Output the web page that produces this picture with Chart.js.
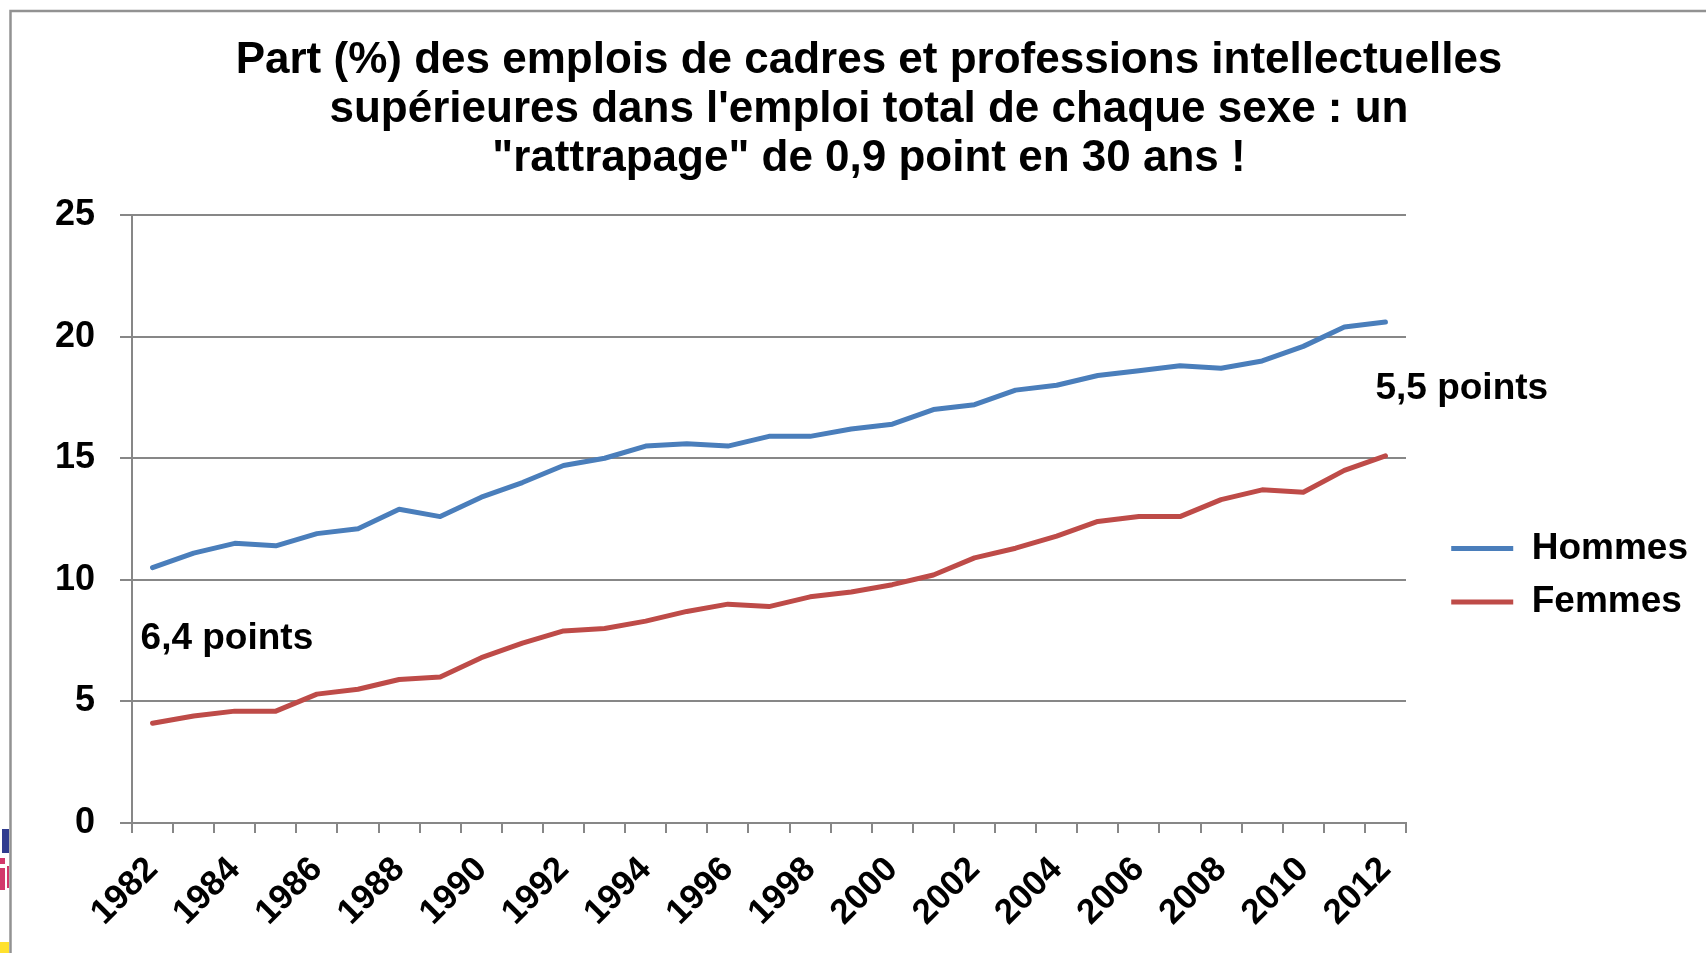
<!DOCTYPE html>
<html lang="fr">
<head>
<meta charset="utf-8">
<title>Part des emplois de cadres par sexe</title>
<script src="https://cdn.jsdelivr.net/npm/chart.js@4.4.1/dist/chart.umd.min.js"></script>
<style>
  html, body { margin: 0; padding: 0; background: #fff; }
  #wrap { position: relative; width: 1706px; height: 953px; }
</style>
</head>
<body>
<div id="wrap"><canvas id="chart"></canvas></div>
<script>
const years = ['1982', '1983', '1984', '1985', '1986', '1987', '1988', '1989', '1990', '1991',
    '1992', '1993', '1994', '1995', '1996', '1997', '1998', '1999', '2000', '2001',
    '2002', '2003', '2004', '2005', '2006', '2007', '2008', '2009', '2010', '2011', '2012'];
const hommes = [10.5, 11.1, 11.5, 11.4, 11.9, 12.1, 12.9, 12.6, 13.4, 14.0,
    14.7, 15.0, 15.5, 15.6, 15.5, 15.9, 15.9, 16.2, 16.4, 17.0,
    17.2, 17.8, 18.0, 18.4, 18.6, 18.8, 18.7, 19.0, 19.6, 20.4, 20.6];
const femmes = [4.1, 4.4, 4.6, 4.6, 5.3, 5.5, 5.9, 6.0, 6.8, 7.4,
    7.9, 8.0, 8.3, 8.7, 9.0, 8.9, 9.3, 9.5, 9.8, 10.2,
    10.9, 11.3, 11.8, 12.4, 12.6, 12.6, 13.3, 13.7, 13.6, 14.5, 15.1];
const yTicks = [0, 5, 10, 15, 20, 25];
const seriesNames = ['Hommes', 'Femmes'];
const gapNotes = ['6,4 points', '5,5 points'];
const titleLines = [
    'Part (%) des emplois de cadres et professions intellectuelles',
    "supérieures dans l'emploi total de chaque sexe : un",
    '"rattrapage" de 0,9 point en 30 ans !'
];

Chart.defaults.font.family = '"Liberation Sans", Arial, sans-serif';
Chart.defaults.color = '#000';

const gridGray = '#878787';
const plotRight = 1406;
const padRight = 8;

// frame of the slide, scraps of the next slide on the left, gap labels
const decorations = {
    id: 'decorations',
    beforeDraw(chart) {
        const ctx = chart.ctx;
        ctx.save();
        ctx.strokeStyle = '#929292';
        ctx.lineWidth = 2.5;
        ctx.beginPath();
        ctx.moveTo(10.5, chart.height);
        ctx.lineTo(10.5, 11);
        ctx.lineTo(chart.width, 11);
        ctx.stroke();
        ctx.fillStyle = '#2f3b8f';
        ctx.fillRect(2, 829, 7, 24);
        ctx.fillStyle = '#d2386b';
        ctx.fillRect(0, 858, 5, 6);
        ctx.fillRect(0, 868, 5, 22);
        ctx.fillRect(7, 866, 2, 22);
        ctx.fillStyle = '#ffe12e';
        ctx.fillRect(0, 942, 9, 11);
        ctx.restore();
    },
    afterDatasetsDraw(chart) {
        const ctx = chart.ctx;
        const x = chart.scales.x;
        const y = chart.scales.y;
        ctx.save();
        ctx.fillStyle = '#000';
        ctx.font = 'bold 37px "Liberation Sans", Arial, sans-serif';
        ctx.textAlign = 'left';
        ctx.textBaseline = 'alphabetic';
        ctx.fillText(gapNotes[0], x.getPixelForValue(0) - 12, y.getPixelForValue(7.15));
        ctx.fillText(gapNotes[1], x.getPixelForValue(years.length - 1) - 10, y.getPixelForValue(17.45));
        ctx.restore();
    }
};

new Chart(document.getElementById('chart'), {
    type: 'line',
    data: {
        labels: years,
        datasets: [
            {
                label: seriesNames[0],
                data: hommes,
                borderColor: '#4a7ebb',
                backgroundColor: '#4a7ebb',
                borderWidth: 5,
                borderCapStyle: 'round',
                borderJoinStyle: 'round',
                pointRadius: 0,
                tension: 0
            },
            {
                label: seriesNames[1],
                data: femmes,
                borderColor: '#be4b48',
                backgroundColor: '#be4b48',
                borderWidth: 5,
                borderCapStyle: 'round',
                borderJoinStyle: 'round',
                pointRadius: 0,
                tension: 0
            }
        ]
    },
    options: {
        responsive: true,
        maintainAspectRatio: false,
        animation: false,
        layout: { padding: { top: 0, left: 40, right: padRight, bottom: 0 } },
        plugins: {
            title: {
                display: true,
                text: titleLines,
                color: '#000',
                font: { size: 44, weight: 'bold', lineHeight: 1.114 },
                padding: { top: 36.5, bottom: 31.5 }
            },
            legend: {
                position: 'right',
                align: 'start',
                // empty title only pushes the two entries down beside the plot
                title: { display: true, text: '', padding: { top: 499, bottom: 0 } },
                labels: {
                    usePointStyle: true,
                    pointStyle: 'line',
                    pointStyleWidth: 62,
                    padding: 16.5,
                    color: '#000',
                    font: { size: 37, weight: 'bold' }
                }
            },
            tooltip: { enabled: false }
        },
        scales: {
            x: {
                offset: true,
                grid: { drawOnChartArea: false, offset: true, tickLength: 10, color: gridGray, lineWidth: 2 },
                border: { color: gridGray, width: 2 },
                ticks: {
                    autoSkip: false,
                    minRotation: 45,
                    maxRotation: 45,
                    padding: 16,
                    color: '#000',
                    font: { size: 35, weight: 'bold' },
                    callback: (value, index) => index % 2 === 0 ? years[index] : ''
                },
                afterFit: scale => { scale.height = 130; }
            },
            y: {
                min: 0,
                max: 25,
                afterBuildTicks: scale => { scale.ticks = yTicks.map(v => ({ value: v })); },
                grid: { color: gridGray, lineWidth: 2, tickLength: 12 },
                border: { color: gridGray, width: 2 },
                ticks: { padding: 25, color: '#000', font: { size: 36, weight: 'bold' } },
                afterFit: scale => { scale.width = 92; }
            },
            gap: {
                type: 'linear',
                axis: 'y',
                position: 'right',
                grid: { display: false },
                border: { display: false },
                ticks: { display: false },
                afterFit: scale => {
                    scale.width = scale.chart.width - plotRight - padRight - scale.chart.legend.width;
                }
            }
        }
    },
    plugins: [decorations]
});
</script>
</body>
</html>
